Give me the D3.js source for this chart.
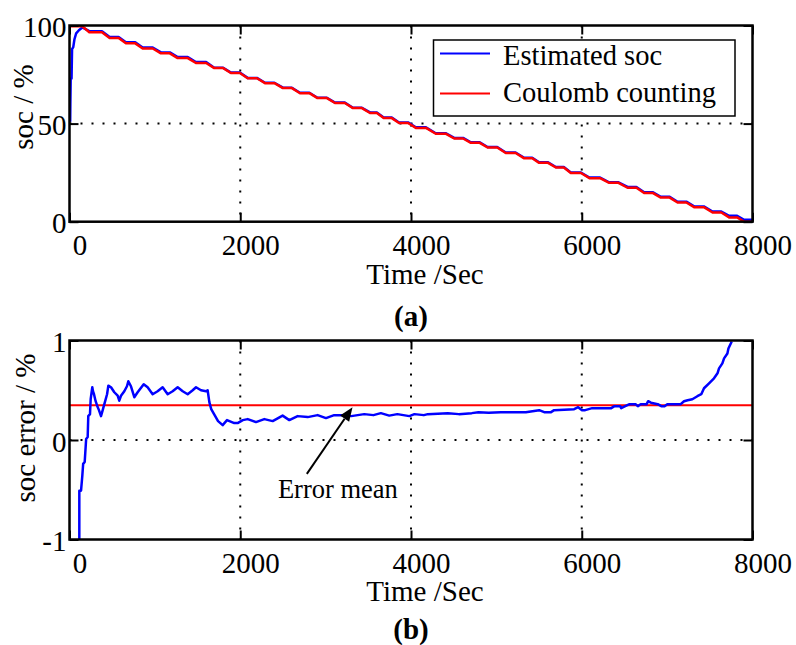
<!DOCTYPE html>
<html>
<head>
<meta charset="utf-8">
<script src="https://cdn.jsdelivr.net/npm/d3@7"></script>
<style>
  html, body { margin: 0; padding: 0; background: #fff; }
  svg { display: block; font-family: "Liberation Serif", "Times New Roman", serif; }
</style>
</head>
<body>
<svg id="chart" width="796" height="645"></svg>
<script>
// ---- data ----
const timeTicks = [0, 2000, 4000, 6000, 8000];
const socTicks = [0, 50, 100];
const errTicks = [-1, 0, 1];
const timeGrid = [2000, 4000, 6000];

// discharge staircase: each rest period starts/ends at these times (s)
const stepStart = [0, 232, 470, 661, 857, 1071, 1267, 1481, 1696, 1891,
  2087, 2290, 2500, 2700, 2905, 3110, 3320, 3520, 3680, 3860,
  4057, 4290, 4506, 4701, 4897, 5110, 5326, 5501, 5697, 5872,
  6090, 6321, 6536, 6731, 6926, 7122, 7316, 7532, 7726, 7902];
const stepEnd = [150, 380, 575, 770, 975, 1175, 1385, 1600, 1800, 1995,
  2195, 2400, 2605, 2810, 3015, 3225, 3425, 3600, 3775, 3965,
  4175, 4410, 4610, 4805, 5010, 5225, 5420, 5605, 5790, 5990,
  6215, 6430, 6640, 6835, 7030, 7225, 7430, 7635, 7820, 8000];
// Coulomb counting SOC (%) during each rest period
const coulombSoc = [99.6, 96.6, 93.6, 90.9, 88.3, 85.8, 83.4, 80.9, 78.3, 75.8,
  73.1, 70.6, 68.1, 65.5, 63.0, 60.5, 57.9, 55.4, 52.8, 50.3,
  47.8, 44.8, 42.4, 40.2, 37.8, 35.0, 32.3, 30.0, 27.6, 24.8,
  22.2, 19.8, 17.3, 14.6, 12.3, 9.8, 7.4, 4.7, 2.2, 0.0];
// Estimated SOC (%) during each rest period
const estimatedSoc = [100.0, 97.1, 94.1, 91.4, 88.8, 86.3, 83.9, 81.4, 78.5, 76.0,
  73.3, 70.8, 68.3, 65.7, 63.2, 60.7, 58.1, 55.7, 53.1, 50.6,
  48.1, 45.1, 42.7, 40.5, 38.1, 35.3, 32.6, 30.3, 27.9, 25.1,
  22.5, 20.1, 17.7, 15.0, 12.7, 10.2, 7.8, 5.2, 3.0, 1.0];
// estimator start-up transient
const estInitTime = [8, 10, 14, 24, 30, 44, 58, 78, 110, 150];
const estInitSoc = [51, 60, 73, 73, 88, 89, 93, 96, 97.6, 99.0];

// SOC error (%)
const errTime = [115, 115, 135, 150, 160, 178, 195, 213, 220, 240, 248, 267, 275, 287, 306, 326, 345, 369,
  389, 408, 440, 455, 486, 525, 564, 583, 603, 642, 673, 689, 720, 759, 798, 869, 915, 974,
  1032, 1091, 1150, 1208, 1267, 1326, 1384, 1443, 1482, 1540, 1600, 1618, 1638, 1660, 1700, 1740,
  1794, 1845, 1930, 1969, 2030, 2087, 2184, 2282, 2380, 2496, 2575, 2672, 2790, 2906, 3004, 3100,
  3220, 3300, 3452, 3560, 3647, 3745, 3840, 3981, 4040, 4150, 4197, 4431, 4560, 4712, 4790, 4910,
  5052, 5345, 5501, 5560, 5640, 5677, 5911, 5958, 6000, 6040, 6122, 6345, 6384, 6450, 6462, 6510,
  6560, 6630, 6657, 6690, 6760, 6778, 6810, 6890, 6931, 6970, 7002, 7159, 7198, 7240, 7295, 7354,
  7400, 7432, 7491, 7549, 7590, 7608, 7647, 7667, 7706, 7718, 7757];
const errValue = [-1.0, -0.51, -0.51, -0.36, -0.24, -0.22, 0.01, 0.03, 0.24, 0.26, 0.41, 0.53, 0.49, 0.46, 0.39, 0.34, 0.30, 0.24,
  0.30, 0.36, 0.46, 0.546, 0.53, 0.48, 0.445, 0.395, 0.445, 0.49, 0.54, 0.59, 0.54, 0.43, 0.48, 0.56, 0.53, 0.46,
  0.49, 0.53, 0.46, 0.49, 0.53, 0.49, 0.46, 0.50, 0.53, 0.50, 0.49, 0.50, 0.38, 0.31, 0.25, 0.19,
  0.15, 0.20, 0.17, 0.17, 0.20, 0.21, 0.18, 0.21, 0.19, 0.245, 0.20, 0.24, 0.23, 0.25, 0.22, 0.25,
  0.25, 0.24, 0.26, 0.25, 0.27, 0.245, 0.26, 0.24, 0.26, 0.25, 0.26, 0.27, 0.26, 0.27, 0.28, 0.275,
  0.28, 0.28, 0.30, 0.28, 0.28, 0.30, 0.31, 0.33, 0.30, 0.30, 0.32, 0.32, 0.34, 0.34, 0.32, 0.34,
  0.36, 0.36, 0.34, 0.36, 0.36, 0.39, 0.375, 0.36, 0.34, 0.34, 0.36, 0.36, 0.39, 0.40, 0.41, 0.44,
  0.46, 0.52, 0.57, 0.62, 0.67, 0.72, 0.77, 0.82, 0.87, 0.92, 0.99];
const errorMean = 0.35;

// annotation anchor points, in data units
const arrowTail = [2780, -0.34];
const arrowHead = [3315, 0.33];
const noteAt = [3144, -0.58];

// ---- drawing ----
const svg = d3.select("#chart");
const FONT = 29;
const LABEL_SHIFT = 10;
const plain = d => String(d);   // keep ASCII hyphen for negatives

const x = d3.scaleLinear().domain([0, 8000]).range([69.5, 752.5]);
const ySoc = d3.scaleLinear().domain([0, 100]).range([221.7, 25.5]);
const yErr = d3.scaleLinear().domain([-1, 1]).range([539.5, 340.5]);

function panel(y, yTickVals, yGridVals, id) {
  const g = svg.append("g");
  const [x0, x1] = x.range();
  const [yb, yt] = y.range();

  g.append("clipPath").attr("id", id)
    .append("rect").attr("x", x0).attr("y", yt).attr("width", x1 - x0).attr("height", yb - yt);

  // dotted grid
  const grid = g.append("g").attr("stroke", "#000").attr("stroke-width", 2)
    .attr("stroke-dasharray", "2,9");
  grid.selectAll("line.v").data(timeGrid).join("line").attr("class", "v")
    .attr("x1", d => x(d)).attr("x2", d => x(d)).attr("y1", yt).attr("y2", yb);
  grid.selectAll("line.h").data(yGridVals).join("line").attr("class", "h")
    .attr("x1", x0).attr("x2", x1).attr("y1", d => y(d)).attr("y2", d => y(d));

  const layer = g.append("g").attr("clip-path", `url(#${id})`);

  // axes with inward ticks
  const bottom = g.append("g").attr("transform", `translate(0,${yb})`)
    .call(d3.axisBottom(x).tickValues(timeTicks).tickSize(-9).tickSizeOuter(0).tickPadding(13).tickFormat(plain));
  bottom.selectAll("text").attr("dx", LABEL_SHIFT);
  g.append("g").attr("transform", `translate(0,${yt})`)
    .call(d3.axisTop(x).tickValues(timeTicks).tickSize(-9).tickSizeOuter(0).tickFormat(""));
  const left = g.append("g").attr("transform", `translate(${x0},0)`)
    .call(d3.axisLeft(y).tickValues(yTickVals).tickSize(-9).tickSizeOuter(0).tickPadding(3).tickFormat(plain));
  left.selectAll("text").attr("dy", "0.38em");
  g.append("g").attr("transform", `translate(${x1},0)`)
    .call(d3.axisRight(y).tickValues(yTickVals).tickSize(-9).tickSizeOuter(0).tickFormat(""));

  g.selectAll(".domain").remove();
  g.selectAll(".tick line").attr("stroke", "#000").attr("stroke-width", 2);
  g.selectAll(".tick text").attr("font-size", FONT).attr("font-family", "Liberation Serif, Times New Roman, serif").attr("fill", "#000");

  g.append("rect").attr("x", x0).attr("y", yt).attr("width", x1 - x0).attr("height", yb - yt)
    .attr("fill", "none").attr("stroke", "#000").attr("stroke-width", 2.5);

  return { g, layer, x0, x1, yb, yt };
}

// (a) SOC
const pa = panel(ySoc, socTicks, [50], "clipA");
const estPts = estInitTime.map((t, i) => [t, estInitSoc[i]]);
stepStart.forEach((t, k) => {
  if (k > 0) estPts.push([t, estimatedSoc[k]], [stepEnd[k], estimatedSoc[k]]);
});
const ccPts = [];
stepStart.forEach((t, k) => ccPts.push([t, coulombSoc[k]], [stepEnd[k], coulombSoc[k]]));

const lineSoc = d3.line().x(d => x(d[0])).y(d => ySoc(d[1]));
pa.layer.append("path").attr("d", lineSoc(estPts)).attr("fill", "none")
  .attr("stroke", "#0000ff").attr("stroke-width", 2.5).attr("stroke-linejoin", "round");
pa.layer.append("path").attr("d", lineSoc(ccPts)).attr("fill", "none")
  .attr("stroke", "#ff0000").attr("stroke-width", 2.5).attr("stroke-linejoin", "round");

// legend
const lg = pa.g.append("g");
lg.append("rect").attr("x", 433.5).attr("y", 40).attr("width", 301.5).attr("height", 76)
  .attr("fill", "#fff").attr("stroke", "#000").attr("stroke-width", 1.5);
const legendItems = [
  { name: "Estimated soc", color: "#0000ff", y: 53.5, base: 65 },
  { name: "Coulomb counting", color: "#ff0000", y: 93.5, base: 102 }
];
legendItems.forEach(it => {
  lg.append("line").attr("x1", 440).attr("x2", 490).attr("y1", it.y).attr("y2", it.y)
    .attr("stroke", it.color).attr("stroke-width", 2);
  lg.append("text").attr("x", 503).attr("y", it.base).attr("font-size", 28.5).text(it.name);
});

svg.append("text").attr("transform", "translate(33,107) rotate(-90)")
  .attr("text-anchor", "middle").attr("font-size", FONT).text("soc / %");
svg.append("text").attr("x", 425).attr("y", 284).attr("text-anchor", "middle")
  .attr("font-size", FONT).text("Time /Sec");
svg.append("text").attr("x", 411).attr("y", 326).attr("text-anchor", "middle")
  .attr("font-size", FONT).attr("font-weight", "bold").text("(a)");

// (b) SOC error
const pb = panel(yErr, errTicks, [0], "clipB");
pb.layer.append("line").attr("x1", pb.x0).attr("x2", pb.x1)
  .attr("y1", yErr(errorMean)).attr("y2", yErr(errorMean))
  .attr("stroke", "#ff0000").attr("stroke-width", 2);
const errPts = errTime.map((t, i) => [t, errValue[i]]);
pb.layer.append("path")
  .attr("d", d3.line().x(d => x(d[0])).y(d => yErr(d[1]))(errPts))
  .attr("fill", "none").attr("stroke", "#0000ff").attr("stroke-width", 2.5).attr("stroke-linejoin", "round");

// arrow annotation
const ax0 = x(arrowTail[0]), ay0 = yErr(arrowTail[1]);
const ax1 = x(arrowHead[0]), ay1 = yErr(arrowHead[1]);
const ang = Math.atan2(ay1 - ay0, ax1 - ax0);
const headLen = 14, headHalf = 5.5;
const bx = ax1 - headLen * Math.cos(ang), by = ay1 - headLen * Math.sin(ang);
svg.append("line").attr("x1", ax0).attr("y1", ay0).attr("x2", bx).attr("y2", by)
  .attr("stroke", "#000").attr("stroke-width", 2);
svg.append("path").attr("fill", "#000")
  .attr("d", `M${ax1},${ay1}L${bx + headHalf * Math.sin(ang)},${by - headHalf * Math.cos(ang)}L${bx - headHalf * Math.sin(ang)},${by + headHalf * Math.cos(ang)}Z`);
svg.append("text").attr("x", x(noteAt[0])).attr("y", yErr(noteAt[1]))
  .attr("text-anchor", "middle").attr("font-size", 26.5).text("Error mean");

svg.append("text").attr("transform", "translate(35,428) rotate(-90)")
  .attr("text-anchor", "middle").attr("font-size", FONT).text("soc error / %");
svg.append("text").attr("x", 425).attr("y", 601).attr("text-anchor", "middle")
  .attr("font-size", FONT).text("Time /Sec");
svg.append("text").attr("x", 411).attr("y", 639).attr("text-anchor", "middle")
  .attr("font-size", FONT).attr("font-weight", "bold").text("(b)");
</script>
</body>
</html>
